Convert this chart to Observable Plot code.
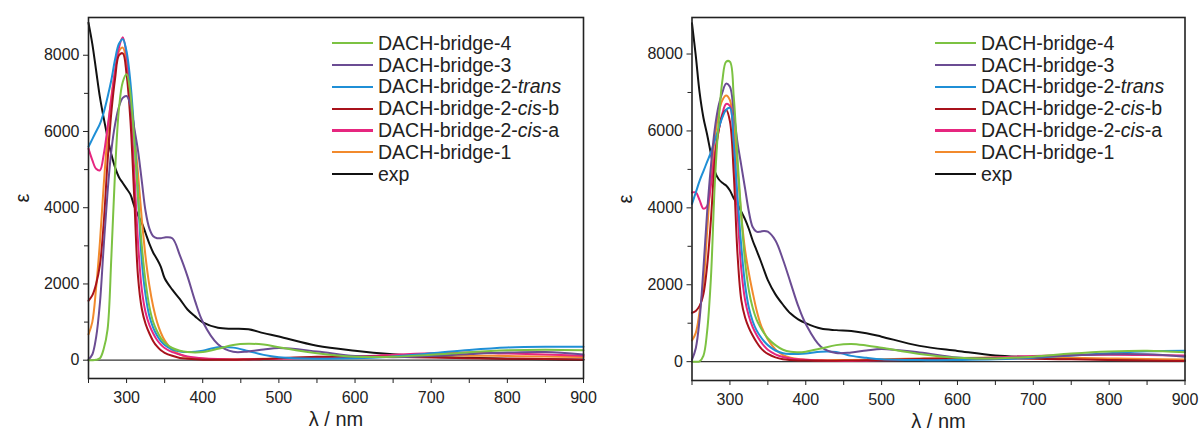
<!DOCTYPE html>
<html><head><meta charset="utf-8">
<script src="https://cdn.jsdelivr.net/npm/d3@7"></script>
<script src="https://cdn.jsdelivr.net/npm/@observablehq/plot@0.6"></script>
<style>
body{margin:0;background:#fff;font-family:"Liberation Sans",Arial,sans-serif;}
#wrap{display:flex;width:1201px;height:432px;overflow:hidden;}
.panel{position:relative;}
.legend{position:absolute;font-size:19.5px;color:#222;}
.legend .row{display:flex;align-items:center;height:21.8px;white-space:nowrap;}
.legend .sw{width:41px;height:2.2px;margin-right:5px;}
</style></head><body><div id="wrap"></div>
<script>
// wavelength grid (nm)
const wl = [250,255,260,265,270,275,280,285,290,295,300,305,310,315,320,325,330,335,340,345,350,360,370,380,390,400,420,440,460,480,500,550,600,650,700,750,800,850,900];

const seriesNames = ["DACH-bridge-4","DACH-bridge-3","DACH-bridge-2-trans","DACH-bridge-2-cis-b","DACH-bridge-2-cis-a","DACH-bridge-1","exp"];
const seriesColors = ["#7cc242","#6b4c93","#1f8fd6","#a8121b","#e6267f","#f28a2c","#111111"];

// ---- left panel ----
const L_bridge4 = [0,0,10,50,300,800,2700,5000,6600,7300,7500,7000,5800,4300,3000,2050,1400,1000,760,580,460,320,250,215,205,215,300,400,430,410,340,180,90,90,140,210,260,275,260];
const L_bridge3 = [20,150,600,1500,3000,4400,5500,6200,6650,6880,6930,6700,6100,5500,4700,3900,3450,3250,3200,3200,3220,3200,2750,2200,1550,1010,420,220,230,280,320,230,110,80,110,160,200,215,150];
const L_trans   = [5600,5800,6000,6200,6500,6900,7350,7900,8300,8420,8100,7300,6000,4300,2600,1700,1150,850,650,500,400,280,230,215,225,250,340,330,240,140,80,40,50,100,180,270,335,355,350];
const L_cisb    = [1560,1700,2000,2500,3600,5200,6500,7400,8000,8050,7500,6300,4300,2200,1350,950,700,500,360,260,195,115,60,40,25,15,10,10,20,30,50,90,100,90,70,50,40,30,20];
const L_cisa    = [5550,5250,5020,4980,5400,6100,6850,7600,8200,8470,8000,6800,5000,3100,1850,1250,920,700,530,410,320,210,150,100,70,50,30,20,25,30,40,60,90,140,180,200,175,150,120];
const L_bridge1 = [680,1000,1900,3100,4600,5900,6900,7600,8100,8200,7800,7000,6000,4900,3700,2700,1950,1400,1000,720,520,270,150,80,50,35,25,25,30,35,45,70,90,110,125,120,110,95,85];
const L_exp     = [8850,8300,7600,6900,6350,5850,5400,5050,4800,4650,4500,4350,4050,3800,3600,3330,3050,2820,2650,2450,2150,1850,1600,1330,1150,990,850,825,810,710,620,380,250,155,90,65,40,25,10];

// ---- right panel ----
const R_bridge4 = [0,0,10,150,800,2200,4600,6200,7300,7800,7800,6900,5300,3800,2600,1850,1400,1100,900,740,610,430,310,255,245,260,340,430,460,420,360,200,100,85,130,210,265,285,245];
const R_bridge3 = [50,350,1100,2400,3900,5100,6050,6650,7000,7230,7150,6500,5700,5100,4500,3900,3500,3380,3380,3400,3380,3150,2650,2050,1450,980,390,225,240,290,330,240,110,85,120,160,195,190,130];
const R_trans   = [4100,4400,4700,4950,5200,5450,5750,6050,6350,6550,6600,5700,4300,3000,2000,1400,1050,820,660,530,430,290,220,200,200,210,260,250,150,100,60,40,45,60,100,160,220,270,285];
const R_cisb    = [1270,1320,1450,1750,2500,3700,5200,6000,6400,6550,6250,4900,2800,1600,1150,880,680,510,370,270,200,110,60,40,30,30,25,25,30,35,40,70,90,85,75,60,45,30,20];
const R_cisa    = [4400,4400,4200,3980,4050,4600,5400,6000,6450,6700,6650,5600,3900,2400,1600,1180,900,700,540,410,310,190,120,80,60,50,30,20,20,25,35,50,70,110,150,175,180,170,160];
const R_bridge1 = [550,750,1300,2000,3400,4800,5800,6450,6800,6920,6800,6100,5000,3800,2900,2300,1800,1350,1000,760,580,320,170,100,70,50,40,40,45,50,60,80,95,105,110,100,85,70,55];
const R_exp     = [8800,7950,7000,6350,5900,5400,4950,4750,4650,4580,4450,4250,4100,3900,3700,3450,3150,2900,2650,2380,2120,1750,1480,1250,1100,1000,860,820,800,740,650,410,280,160,115,80,55,40,25];

const xMajor = [300,400,500,600,700,800,900];
const xMinor = [250,350,450,550,650,750,850];
const yMajor = [0,2000,4000,6000,8000];
const yMinor = [1000,3000,5000,7000];

function tidy(arrays){
  const drawOrder = [6,5,4,3,2,1,0];
  const out = [];
  for (const k of drawOrder) arrays[k].forEach((v,i)=>out.push({name: seriesNames[k], x: wl[i], y: v}));
  return out;
}

function makePanel(arrays, opt){
  const data = tidy(arrays);
  const div = document.createElement("div");
  div.className = "panel";
  div.style.width = opt.width + "px";
  const svg = Plot.plot({
    width: opt.width, height: 432,
    marginLeft: opt.ml, marginRight: opt.mr, marginTop: opt.mt, marginBottom: opt.mb,
    style: {fontFamily: '"Liberation Sans", Arial, sans-serif', fontSize: "16px", color: "#222", background: "#fff"},
    x: {domain: [250, 900]},
    y: {domain: opt.ydom},
    color: {domain: seriesNames, range: seriesColors},
    marks: [
      Plot.ruleY([0], {stroke: "#333", strokeWidth: 1.2}),
      Plot.line(data, {x: "x", y: "y", z: "name", stroke: "name", curve: "catmull-rom", strokeWidth: 2}),
      Plot.frame({stroke: "#222", strokeWidth: 1.6}),
      Plot.axisX({ticks: xMajor, tickSize: 5, tickPadding: 8, label: "λ / nm", labelAnchor: "center", labelArrow: "none", labelOffset: 47, tickFormat: "d"}),
      Plot.axisX({ticks: xMinor, tickSize: 5, tickFormat: () => "", label: null}),
      Plot.axisY({ticks: yMajor, tickSize: 5, tickPadding: 4, label: "ε", labelAnchor: "center", labelArrow: "none", labelOffset: 74, tickFormat: "d"}),
      Plot.axisY({ticks: yMinor, tickSize: 4, tickFormat: () => "", label: null})
    ]
  });
  svg.querySelectorAll('[aria-label="x-axis label"] text, [aria-label="y-axis label"] text').forEach(t => t.style.fontSize = "20px");
  div.appendChild(svg);
  const lg = document.createElement("div");
  lg.className = "legend";
  lg.style.left = opt.legLeft + "px";
  lg.style.top = "32.4px";
  const labels = [
    "DACH-bridge-4","DACH-bridge-3","DACH-bridge-2-<i>trans</i>","DACH-bridge-2-<i>cis</i>-b","DACH-bridge-2-<i>cis</i>-a","DACH-bridge-1","exp"
  ];
  labels.forEach((l,i) => {
    const r = document.createElement("div");
    r.className = "row";
    r.innerHTML = `<span class="sw" style="background:${seriesColors[i]}"></span><span>${l}</span>`;
    lg.appendChild(r);
  });
  div.appendChild(lg);
  return div;
}

const wrap = document.getElementById("wrap");
wrap.appendChild(makePanel([L_bridge4,L_bridge3,L_trans,L_cisb,L_cisa,L_bridge1,L_exp], {width: 600, ml: 88, mr: 17, mt: 17, mb: 54, ydom: [-480, 8990], legLeft: 332}));
wrap.appendChild(makePanel([R_bridge4,R_bridge3,R_trans,R_cisb,R_cisa,R_bridge1,R_exp], {width: 601, ml: 91.5, mr: 16.5, mt: 17, mb: 52, ydom: [-490, 8950], legLeft: 335}));
</script></body></html>
